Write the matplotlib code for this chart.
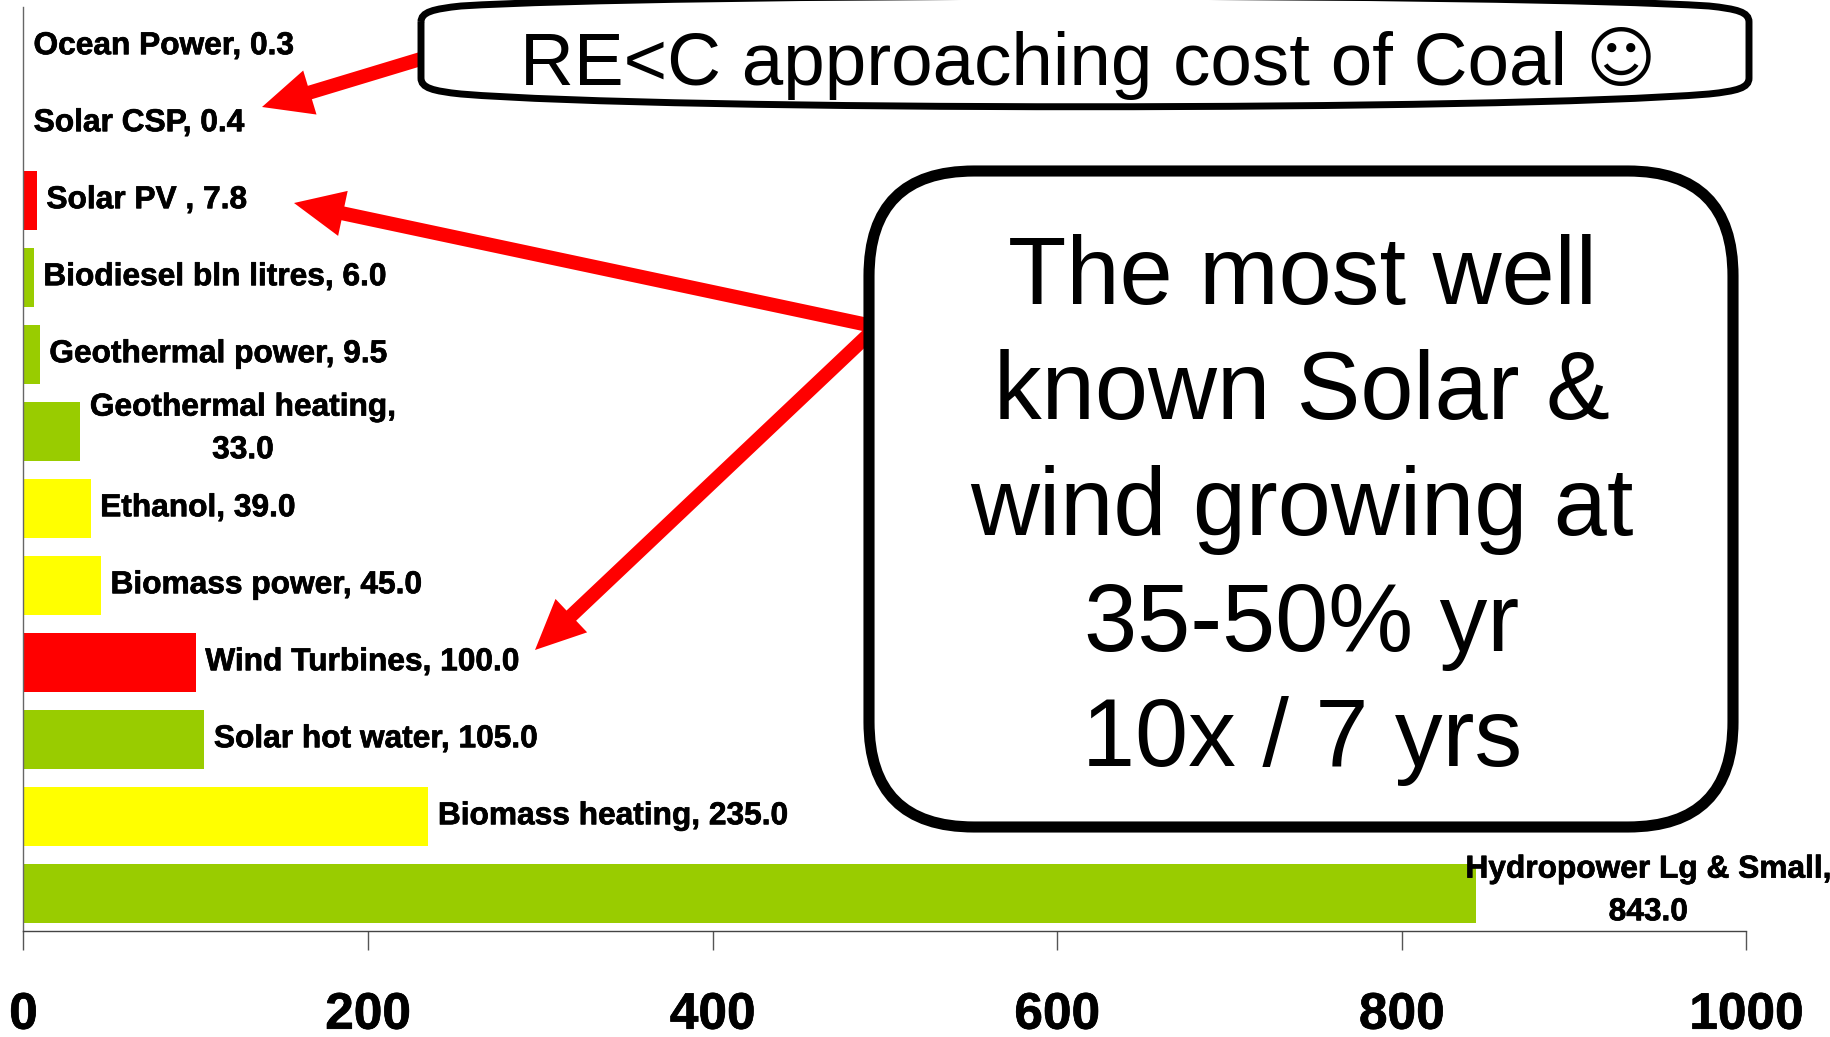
import matplotlib
matplotlib.use("Agg")
import matplotlib.pyplot as plt
import matplotlib.patheffects as pe
from matplotlib.patches import FancyBboxPatch, FancyArrow, PathPatch
from matplotlib.path import Path

labels = ["Hydropower Lg & Small,\n843.0", "Biomass heating, 235.0", "Solar hot water, 105.0",
          "Wind Turbines, 100.0", "Biomass power, 45.0", "Ethanol, 39.0",
          "Geothermal heating,\n33.0", "Geothermal power, 9.5", "Biodiesel bln litres, 6.0",
          "Solar PV , 7.8", "Solar CSP, 0.4", "Ocean Power, 0.3"]
values = [843.0, 235.0, 105.0, 100.0, 45.0, 39.0, 33.0, 9.5, 6.0, 7.8, 0.4, 0.3]
colors = ["#99cc00", "#ffff00", "#99cc00", "#ff0000", "#ffff00", "#ffff00",
          "#99cc00", "#99cc00", "#99cc00", "#ff0000", "#99cc00", "#99cc00"]
xticks = [0, 200, 400, 600, 800, 1000]

W, H = 1831, 1037
plt.rcParams["font.family"] = ["Liberation Sans", "DejaVu Sans"]
fig = plt.figure(figsize=(W / 100, H / 100), dpi=100)

# plot area in pixels of the full-size picture
left, right, top, bottom = 23.5, 1746.5, 0, 931
ax = fig.add_axes([left / W, 1 - bottom / H, (right - left) / W, (bottom - top) / H])
y = list(range(len(values)))
ax.barh(y, values, height=0.765, color=colors, linewidth=0)
ax.set_xlim(0, 1000)
ax.set_ylim(-0.49, 11.60)
ax.set_yticks([])
ax.set_xticks(xticks)
ax.set_xticklabels([str(t) for t in xticks], fontsize=37, fontweight="bold")
ax.tick_params(axis="x", length=13.5, width=1, pad=29.5, direction="out", color="#555555")
for s in ["top", "right"]:
    ax.spines[s].set_visible(False)
ax.spines["left"].set_linewidth(1)
ax.spines["left"].set_color("#666666")
ax.spines["left"].set_bounds(-0.49, 11.51)
ax.spines["bottom"].set_linewidth(1)
ax.spines["bottom"].set_color("#444444")

bold = [pe.withStroke(linewidth=0.5, foreground="black")]
for i, (lab, v) in enumerate(zip(labels, values)):
    if i == 0:
        t = ax.text(943, i + 0.03, lab, fontsize=22.8, fontweight="bold", va="center", ha="center",
                    multialignment="center", linespacing=1.55)
    elif "\n" in lab:
        t = ax.text(v + 5.5, i + 0.03, lab, fontsize=22.8, fontweight="bold", va="center", ha="left",
                    multialignment="center", linespacing=1.55)
    else:
        t = ax.text(v + 5.5, i, lab, fontsize=22.8, fontweight="bold", va="center", ha="left")
    t.set_path_effects(bold)
for t in ax.get_xticklabels():
    t.set_path_effects(bold)

# overlay in pixel coordinates
ov = fig.add_axes([0, 0, 1, 1])
ov.set_xlim(0, W)
ov.set_ylim(H, 0)
ov.axis("off")
ov.patch.set_alpha(0)

for x0, y0, x1, y1 in [(424, 58, 262, 107), (868, 325, 294, 203), (868, 335, 535, 650)]:
    ov.add_patch(FancyArrow(x0, y0, x1 - x0, y1 - y0, width=14, head_width=46, head_length=50,
                            length_includes_head=True, color="#ff0000", linewidth=0, zorder=3))

# barrel shaped box, its long edges bow outwards
x0, x1 = 421, 1749
verts = [(x0, 22), (x0, 12), (x0 + 12, 9), (x0 + 40, 6),
         (x0 + 250, -7), (x1 - 250, -7), (x1 - 40, 6),
         (x1 - 12, 9), (x1, 12), (x1, 22),
         (x1, 78), (x1, 78), (x1, 78),
         (x1, 88), (x1 - 12, 91), (x1 - 40, 94),
         (x1 - 250, 111), (x0 + 250, 111), (x0 + 40, 94),
         (x0 + 12, 91), (x0, 88), (x0, 78),
         (x0, 22)]
codes = [Path.MOVETO] + [Path.CURVE4] * 21 + [Path.LINETO]
ov.add_patch(PathPatch(Path(verts, codes), facecolor="white", edgecolor="black", linewidth=5, zorder=4))
ov.text(520, 85, "RE<C approaching cost of Coal", fontsize=53.7, ha="left", va="baseline", zorder=5)
ov.text(1621, 62, "\u263a", fontsize=48.5, ha="center", va="center", zorder=5, family="DejaVu Sans")

ov.add_patch(FancyBboxPatch((869, 171), 864, 656, boxstyle="round,pad=0,rounding_size=105",
                            facecolor="white", edgecolor="black", linewidth=8, zorder=4))
box_lines = ["The most well", "known Solar &", "wind growing at", "35-50% yr", "10x / 7 yrs"]
for line, yp in zip(box_lines, [279, 394, 510, 626, 741]):
    ov.text(1302, yp, line, fontsize=68.8, ha="center", va="center", zorder=5)

fig.savefig("out.png", dpi=100)
